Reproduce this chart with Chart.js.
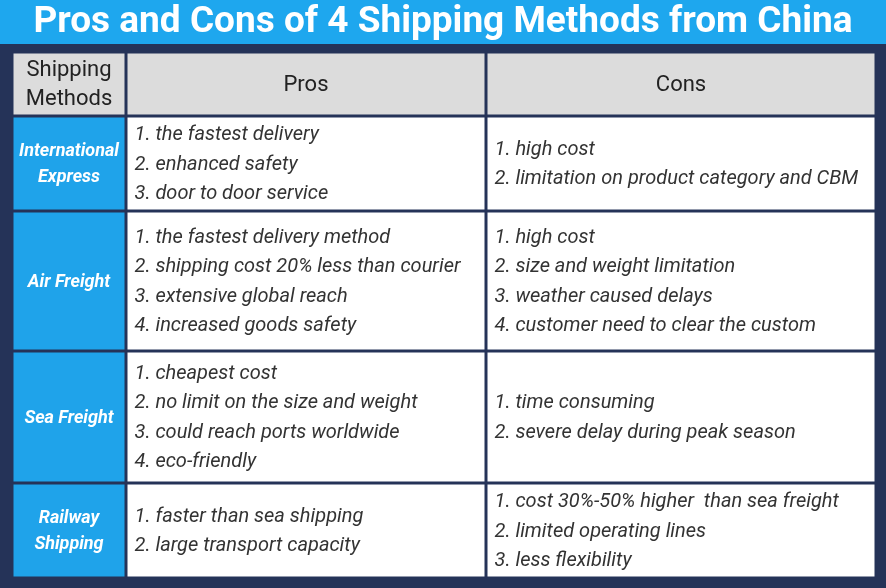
<!DOCTYPE html>
<html><head><meta charset="utf-8">
<script src="https://cdn.jsdelivr.net/npm/chart.js@4"></script>
<style>html,body{margin:0;padding:0;background:#253358;}canvas{display:block}</style>
</head><body>
<canvas id="c" width="886" height="588"></canvas>
<script>
const title = "Pros and Cons of 4 Shipping Methods from China";
const headers = [["Shipping","Methods"], ["Pros"], ["Cons"]];
const methods = [["International","Express"], ["Air Freight"], ["Sea Freight"], ["Railway","Shipping"]];
const pros = [
  ["1. the fastest delivery","2. enhanced safety","3. door to door service"],
  ["1. the fastest delivery method","2. shipping cost 20% less than courier","3. extensive global reach","4. increased goods safety"],
  ["1. cheapest cost","2. no limit on the size and weight","3. could reach ports worldwide","4. eco-friendly"],
  ["1. faster than sea shipping","2. large transport capacity"]
];
const cons = [
  ["1. high cost","2. limitation on product category and CBM"],
  ["1. high cost","2. size and weight limitation","3. weather caused delays","4. customer need to clear the custom"],
  ["1. time consuming","2. severe delay during peak season"],
  ["1. cost 30%-50% higher  than sea freight","2. limited operating lines","3. less flexibility"]
];
// grid boundaries in scale units
const colEdges = [12, 126, 486, 876];
const rowEdges = [52, 116, 211, 351, 483, 578];

const FN = '"Liberation Sans Narrow", "Roboto", sans-serif';
const tablePlugin = {
  id: 'table',
  afterDraw(chart) {
    const ctx = chart.ctx, xs = chart.scales.x, ys = chart.scales.y;
    const X = v => xs.getPixelForValue(v), Y = v => ys.getPixelForValue(v);
    ctx.save();
    ctx.fillStyle = '#253358'; ctx.fillRect(0, 0, chart.width, chart.height);
    ctx.fillStyle = '#1ea7ee'; ctx.fillRect(X(0), Y(0), X(886) - X(0), Y(44) - Y(0));
    ctx.fillStyle = '#ffffff'; ctx.textAlign = 'center'; ctx.textBaseline = 'middle';
    ctx.font = 'bold 37px ' + FN;
    ctx.fillText(title, X(443), Y(23));
    const g = 1.5;
    for (let r = 0; r < rowEdges.length - 1; r++) {
      for (let c = 0; c < colEdges.length - 1; c++) {
        const x0 = X(colEdges[c]) + g, x1 = X(colEdges[c + 1]) - g;
        const y0 = Y(rowEdges[r]) + g, y1 = Y(rowEdges[r + 1]) - g;
        let fill = '#ffffff';
        if (r === 0) fill = '#dcdcdc'; else if (c === 0) fill = '#1fa3ea';
        ctx.fillStyle = fill; ctx.fillRect(x0, y0, x1 - x0, y1 - y0);
        let lines, lh, color, font, align;
        if (r === 0) { lines = headers[c]; lh = 29; color = '#222'; font = '22px ' + FN; align = 'center'; }
        else if (c === 0) { lines = methods[r - 1]; lh = 26; color = '#fff'; font = 'italic bold 18px ' + FN; align = 'center'; }
        else { lines = (c === 1 ? pros : cons)[r - 1]; lh = 29.5; color = '#333'; font = 'italic 20px ' + FN; align = 'left'; }
        ctx.fillStyle = color; ctx.font = font; ctx.textAlign = align;
        const cy = (y0 + y1) / 2, start = cy - (lines.length - 1) * lh / 2;
        const tx = align === 'center' ? (x0 + x1) / 2 : x0 + 7;
        lines.forEach((t, i) => ctx.fillText(t, tx, start + i * lh + 1));
      }
    }
    ctx.restore();
  }
};
new Chart(document.getElementById('c'), {
  type: 'scatter',
  data: { datasets: [{ data: [] }] },
  options: {
    responsive: false, animation: false,
    layout: { padding: 0 },
    plugins: { legend: { display: false }, tooltip: { enabled: false } },
    scales: {
      x: { type: 'linear', min: 0, max: 886, display: false },
      y: { type: 'linear', min: 0, max: 588, reverse: true, display: false }
    }
  },
  plugins: [tablePlugin]
});
</script>
</body></html>
